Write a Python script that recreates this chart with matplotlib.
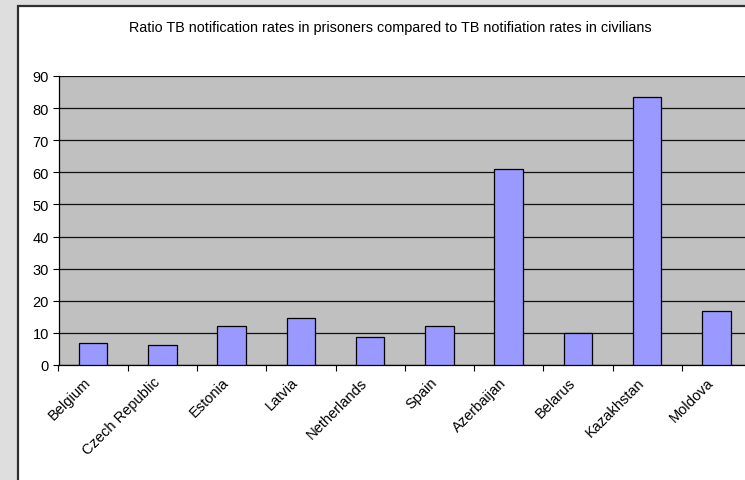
import matplotlib
matplotlib.use("Agg")
import matplotlib.pyplot as plt
from matplotlib.patches import Rectangle

countries = ["Belgium", "Czech Republic", "Estonia", "Latvia", "Netherlands",
             "Spain", "Azerbaijan", "Belarus", "Kazakhstan", "Moldova"]
ratios = [6.9, 6.3, 12.1, 14.7, 8.8, 12.1, 60.9, 9.9, 83.5, 16.9]
y_ticks = [0, 10, 20, 30, 40, 50, 60, 70, 80, 90]
title = "Ratio TB notification rates in prisoners compared to TB notifiation rates in civilians"

plt.rcParams["font.family"] = ["Liberation Sans", "DejaVu Sans"]

W, H = 745, 481
fig = plt.figure(figsize=(W / 100, H / 100), dpi=100)
fig.patch.set_facecolor("#dedede")

# white chart area with dark frame, running off the right and bottom edges
frame = Rectangle((17.5 / W, -0.05), 1.2, (H - 6.5) / H + 0.05,
                  transform=fig.transFigure, facecolor="white",
                  edgecolor="#303030", linewidth=1.6, zorder=-5)
fig.patches.append(frame)

ax = fig.add_axes([58.5 / W, (H - 366) / H, (751 - 58.5) / W, (366 - 77) / H])
ax.set_zorder(2)
ax.set_facecolor("#c0c0c0")

x = range(len(countries))
ax.bar(x, ratios, width=0.41, color="#9999ff", edgecolor="black",
       linewidth=0.9, zorder=3)

ax.set_xlim(-0.5, len(countries) - 0.5)
ax.set_ylim(0, 90)
ax.set_yticks(y_ticks)
ax.set_yticklabels([str(v) for v in y_ticks], fontsize=10.5)
ax.yaxis.grid(True, color="#101010", linewidth=0.9, zorder=1)
ax.set_axisbelow(True)

ax.set_xticks([i - 0.5 for i in range(len(countries) + 1)], minor=False)
ax.set_xticklabels([])
ax.set_xticks(list(x), minor=True)
ax.set_xticklabels(countries, minor=True, rotation=45, ha="right",
                   va="top", fontsize=10.5)
ax.tick_params(axis="x", which="minor", length=0, pad=7)
ax.tick_params(axis="x", which="major", length=4, width=0.8, color="black")
ax.tick_params(axis="y", length=4, width=0.8, color="black", pad=3)

for side in ("top", "right"):
    ax.spines[side].set_visible(False)
ax.spines["left"].set_color("black")
ax.spines["bottom"].set_color("black")
ax.spines["left"].set_linewidth(0.9)
ax.spines["bottom"].set_linewidth(0.9)

fig.text(390 / W, 1 - 28 / H, title, ha="center", va="center", fontsize=10.4)

fig.savefig("out.png", dpi=100, facecolor=fig.get_facecolor())
